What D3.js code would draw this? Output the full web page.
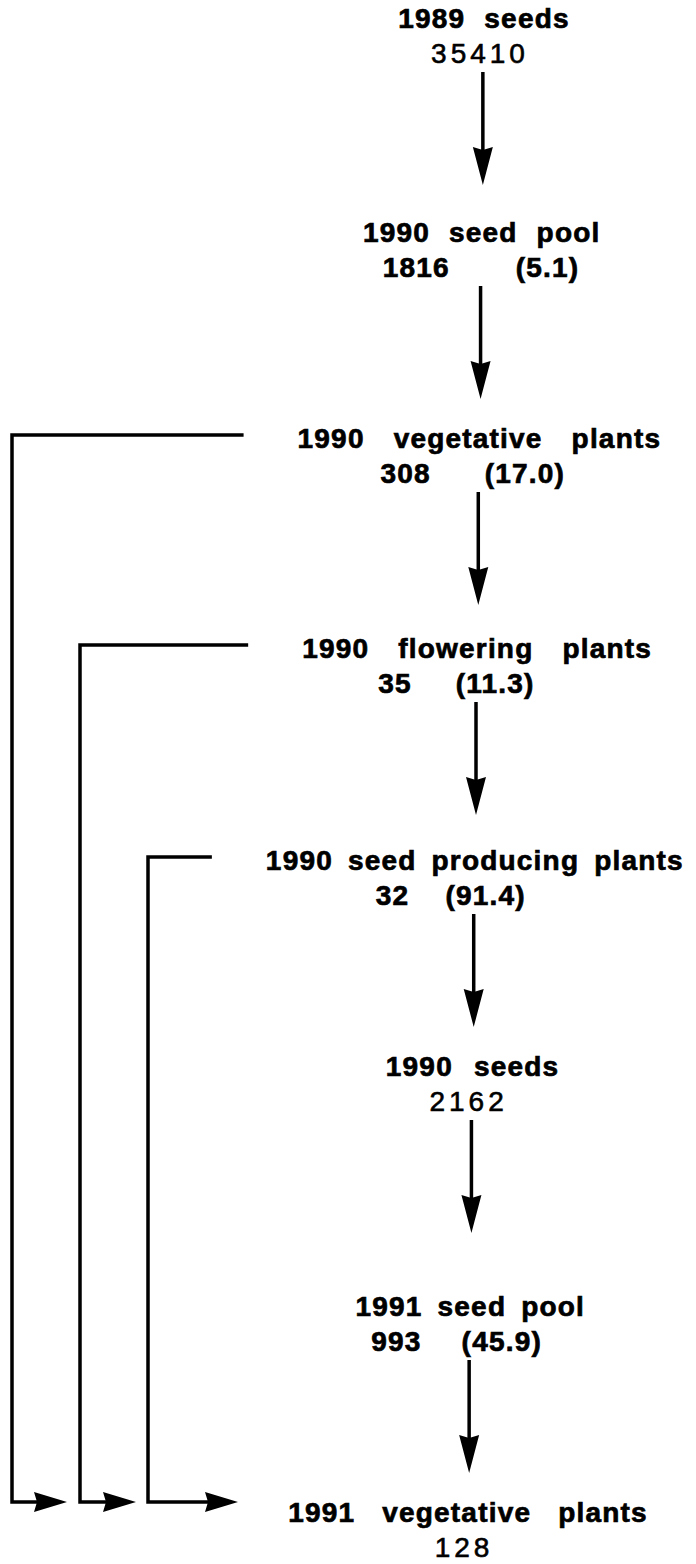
<!DOCTYPE html>
<html>
<head>
<meta charset="utf-8">
<script src="https://cdn.jsdelivr.net/npm/d3@7"></script>
<style>
  html, body { margin: 0; padding: 0; background: #fff; }
  svg { display: block; }
  .label { font-family: "Liberation Sans", Arial, sans-serif; font-weight: bold; font-size: 28px; fill: #000; stroke: #000; stroke-width: 0.7px; letter-spacing: 1.2px; }
  .num { font-family: "Liberation Sans", Arial, sans-serif; font-size: 28px; fill: #000; stroke: #000; stroke-width: 0.6px; letter-spacing: 4px; }
</style>
</head>
<body>
<svg id="flow"></svg>
<script>
// life-cycle stages, top to bottom
const stages = [
    "1989 seeds",
    "1990 seed pool",
    "1990 vegetative plants",
    "1990 flowering plants",
    "1990 seed producing plants",
    "1990 seeds",
    "1991 seed pool",
    "1991 vegetative plants"
];
const counts = [35410, 1816, 308, 35, 32, 2162, 993, 128];
// % transition from the previous stage (null = not given)
const percents = [null, 5.1, 17.0, 11.3, 91.4, null, 45.9, null];

// stages that skip straight to 1991 vegetative plants
const bypassFrom = ["1990 vegetative plants", "1990 flowering plants", "1990 seed producing plants"];
const bypassTo = "1991 vegetative plants";

const W = 696, H = 1564;
const ROW_Y = [28, 242, 448, 658, 870, 1076, 1316, 1522];   // label baselines
const WORD_GAP = [10, 10, 20, 20, 6, 12, 6, 18];
const PCT_GAP = [0, 66, 54, 44, 36, 0, 40, 0];
const COUNT_DY = 35;
const ARROW_DY = 44, ARROW_LEN = 113;
const HEAD_L = 38, HEAD_W = 20, NOTCH = 3;
const SIDE_HEAD_L = 33;
const BYPASS_TIP = [67, 136, 238];

const svg = d3.select('#flow')
    .attr('width', W)
    .attr('height', H);

const yScale = d3.scaleOrdinal().domain(stages).range(ROW_Y);
// the scan drifts a bit to the left going down
const xScale = d3.scaleLinear().domain([0, stages.length - 1]).range([484, 468]);
const bypassX = d3.scalePoint().domain(bypassFrom).range([12, 148]);
const fmt = d3.format('.1f');
const line = d3.line();

/** stage labels */
const labels = svg.selectAll('text.label')
    .data(stages)
    .enter()
    .append('text')
    .attr('class', 'label')
    .attr('x', (d, i) => xScale(i))
    .attr('y', d => yScale(d))
    .attr('text-anchor', 'middle')
    .style('word-spacing', (d, i) => WORD_GAP[i] + 'px')
    .text(d => d);

/** counts + percents */
stages.forEach((s, i) => {
    const y = yScale(s) + COUNT_DY;
    if (percents[i] == null) {
        svg.append('text')
            .attr('class', 'num')
            .attr('x', xScale(i) - 4)
            .attr('y', y)
            .attr('text-anchor', 'middle')
            .text(counts[i]);
    } else {
        const t = svg.append('text')
            .attr('class', 'label')
            .attr('x', xScale(i) - 99)
            .attr('y', y);
        t.append('tspan').text(counts[i]);
        t.append('tspan').attr('dx', PCT_GAP[i]).text(`(${fmt(percents[i])})`);
    }
});

function headDown(x, tip) {
    return line([[x, tip], [x - HEAD_W / 2, tip - HEAD_L], [x, tip - HEAD_L + NOTCH], [x + HEAD_W / 2, tip - HEAD_L], [x, tip]]);
}
function headRight(tip, y) {
    return line([[tip, y], [tip - SIDE_HEAD_L, y - HEAD_W / 2], [tip - SIDE_HEAD_L + NOTCH, y], [tip - SIDE_HEAD_L, y + HEAD_W / 2], [tip, y]]);
}

/** main chain arrows */
d3.pairs(stages).forEach(([a, b], i) => {
    const x = xScale(i + 0.5);
    const y0 = yScale(a) + ARROW_DY;
    const tip = y0 + ARROW_LEN;
    svg.append('line')
        .attr('x1', x).attr('x2', x)
        .attr('y1', y0).attr('y2', tip - HEAD_L + NOTCH + 2)
        .style('stroke', '#000')
        .style('stroke-width', 3.5);
    svg.append('path').attr('d', headDown(x, tip)).style('fill', '#000');
});

/** bypass arrows */
const yEnd = yScale(bypassTo) - 20;
labels.filter(d => bypassFrom.includes(d)).each(function (d) {
    const k = bypassFrom.indexOf(d);
    const len = this.getComputedTextLength();
    const i = stages.indexOf(d);
    const xRight = xScale(i) - len / 2 - 54;
    const y = yScale(d) - 13;
    const x = bypassX(d);
    const tip = BYPASS_TIP[k];
    svg.append('path')
        .attr('d', line([[xRight, y], [x, y], [x, yEnd], [tip - SIDE_HEAD_L + NOTCH + 2, yEnd]]))
        .style('fill', 'none')
        .style('stroke', '#000')
        .style('stroke-width', 3.5);
    svg.append('path').attr('d', headRight(tip, yEnd)).style('fill', '#000');
});
</script>
</body>
</html>
